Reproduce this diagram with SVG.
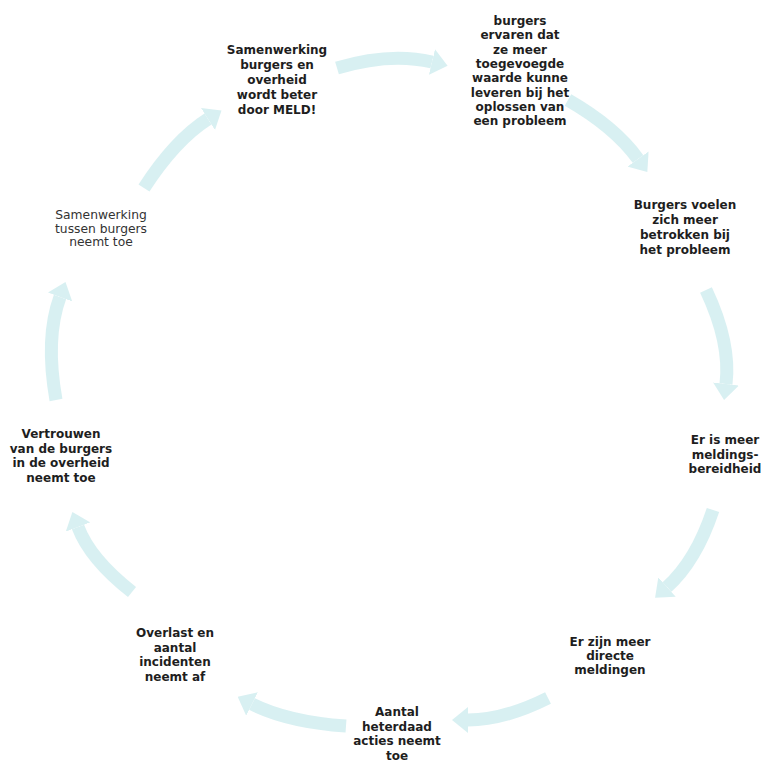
<svg xmlns="http://www.w3.org/2000/svg" width="762" height="761" viewBox="0 0 762 761">
<style>
.t{font-family:"DejaVu Sans","Liberation Sans",sans-serif;font-size:12px;font-weight:bold;fill:#1e1e1e;text-anchor:middle}
.s{font-size:12.3px;font-weight:normal;fill:#333333}
.c{fill:none;stroke:#d2eef0;stroke-width:13;marker-end:url(#ah)}
</style>
<defs>
<marker id="ah" markerUnits="userSpaceOnUse" markerWidth="16" markerHeight="26" viewBox="0 0 16 26" refX="0" refY="13" orient="auto">
<path d="M0,0 L16,13 L0,26 z" fill="#d2eef0"/>
</marker>
</defs>
<rect width="762" height="761" fill="#ffffff"/>
<g id="connectors" opacity="0.85">
<path class="c" d="M337,68 Q390,52 432,62"/>
<path class="c" d="M568,100 Q615,127 638,159"/>
<path class="c" d="M706,290 Q731,343 726,384"/>
<path class="c" d="M713,510 Q696,561 667,587"/>
<path class="c" d="M548,698 Q504,720 468,720"/>
<path class="c" d="M346,726 Q288,722 252,704"/>
<path class="c" d="M132,592 Q90,559 78,527"/>
<path class="c" d="M56,400 Q45,338 60,297"/>
<path class="c" d="M144,188 Q175,140 208,119"/>
</g>
<g id="n1"><text class="t" x="277" y="54">Samenwerking<tspan x="277" dy="15">burgers en</tspan><tspan x="277" dy="15">overheid</tspan><tspan x="277" dy="15">wordt beter</tspan><tspan x="277" dy="15">door MELD!</tspan></text></g>
<g id="n2"><text class="t" x="520" y="25">burgers<tspan x="520" dy="14.3">ervaren dat</tspan><tspan x="520" dy="14.3">ze meer</tspan><tspan x="520" dy="14.3">toegevoegde</tspan><tspan x="520" dy="14.3">waarde kunne</tspan><tspan x="520" dy="14.3">leveren bij het</tspan><tspan x="520" dy="14.3">oplossen van</tspan><tspan x="520" dy="14.3">een probleem</tspan></text></g>
<g id="n3"><text class="t" x="685" y="209">Burgers voelen<tspan x="685" dy="15">zich meer</tspan><tspan x="685" dy="15">betrokken bij</tspan><tspan x="685" dy="15">het probleem</tspan></text></g>
<g id="n4"><text class="t" x="725" y="444">Er is meer<tspan x="725" dy="14.5">meldings-</tspan><tspan x="725" dy="14.5">bereidheid</tspan></text></g>
<g id="n5"><text class="t" x="610" y="646">Er zijn meer<tspan x="610" dy="14">directe</tspan><tspan x="610" dy="14">meldingen</tspan></text></g>
<g id="n6"><text class="t" x="397" y="716">Aantal<tspan x="397" dy="14.5">heterdaad</tspan><tspan x="397" dy="14.5">acties neemt</tspan><tspan x="397" dy="14.5">toe</tspan></text></g>
<g id="n7"><text class="t" x="175" y="637">Overlast en<tspan x="175" dy="14.5">aantal</tspan><tspan x="175" dy="14.5">incidenten</tspan><tspan x="175" dy="14.5">neemt af</tspan></text></g>
<g id="n8"><text class="t" x="61" y="438">Vertrouwen<tspan x="61" dy="14.5">van de burgers</tspan><tspan x="61" dy="14.5">in de overheid</tspan><tspan x="61" dy="14.5">neemt toe</tspan></text></g>
<g id="n9"><text class="t s" x="101" y="219">Samenwerking<tspan x="101" dy="13.5">tussen burgers</tspan><tspan x="101" dy="13.5">neemt toe</tspan></text></g>
</svg>
